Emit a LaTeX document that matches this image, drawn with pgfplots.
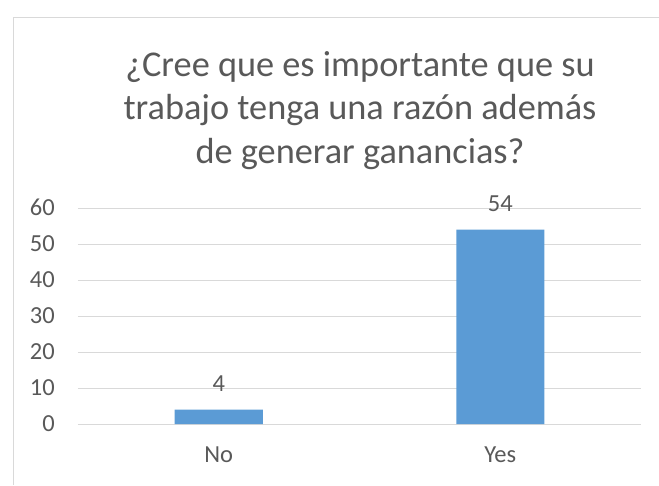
\documentclass[border=0pt]{standalone}
\usepackage{pgfplots}
\pgfplotsset{compat=1.18}
\usepackage{fontspec}
\setmainfont{Carlito}
\definecolor{barblue}{HTML}{5B9BD5}
\definecolor{txtgray}{HTML}{595959}
\definecolor{gridgray}{HTML}{D9D9D9}
\begin{document}
\begin{tikzpicture}
\useasboundingbox (0,0) rectangle (659pt,485pt);
\draw[gridgray, line width=1pt] (13.5pt,0pt) -- (13.5pt,467.5pt) -- (659pt,467.5pt);
\node[anchor=base, inner sep=0pt, text=txtgray, font=\fontsize{36.3}{44}\selectfont] at (360pt,408.3pt) {¿Cree que es importante que su};
\node[anchor=base, inner sep=0pt, text=txtgray, font=\fontsize{36.3}{44}\selectfont] at (360pt,365pt) {trabajo tenga una razón además};
\node[anchor=base, inner sep=0pt, text=txtgray, font=\fontsize{36.3}{44}\selectfont] at (360pt,321.7pt) {de generar ganancias?};
\begin{axis}[
  at={(78pt,61pt)}, anchor=south west,
  scale only axis, width=563pt, height=216pt,
  xmin=-0.5, xmax=1.5, ymin=0, ymax=60,
  xtick=data, xticklabels={No,Yes},
  ytick={0,10,...,60},
  ymajorgrids, grid style={gridgray, line width=1pt},
  axis line style={draw=none},
  major tick length=0pt,
  tick label style={text=txtgray, inner sep=0pt, font=\fontsize{24.5}{29}\selectfont},
  /pgf/number format/assume math mode=true,
  yticklabel style={anchor=base east, xshift=-23pt, yshift=-7.9pt},
  xticklabel style={anchor=base, yshift=-38.7pt},
  ybar, bar width=88pt,
  nodes near coords,
  nodes near coords style={text=txtgray, inner sep=0pt, anchor=base, yshift=17.7pt, font=\fontsize{24.5}{29}\selectfont},
  clip=false,
]
\addplot[fill=barblue, draw=none] coordinates {(0,4) (1,54)};
\end{axis}
\end{tikzpicture}
\end{document}
